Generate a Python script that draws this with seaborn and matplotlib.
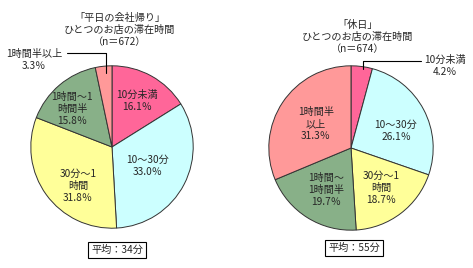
import matplotlib
matplotlib.use("Agg")
import matplotlib.pyplot as plt
import seaborn as sns
from matplotlib.lines import Line2D

# data
categories = ["10分未満", "10～30分", "30分～1時間", "1時間～1時間半", "1時間半以上"]
weekday_values = [16.1, 33.0, 31.8, 15.8, 3.3]
holiday_values = [4.2, 26.1, 18.7, 19.7, 31.3]
weekday_title = "「平日の会社帰り」\nひとつのお店の滞在時間\n（n＝672）"
holiday_title = "「休日」\nひとつのお店の滞在時間\n（n＝674）"
weekday_avg = "平均：34分"
holiday_avg = "平均：55分"
weekday_labels = ["10分未満", "10～30分", "30分～1\n時間", "1時間～1\n時間半", "1時間半以上"]
holiday_labels = ["10分未満", "10～30分", "30分～1\n時間", "1時間～\n1時間半", "1時間半\n以上"]

colors = ["#ff6699", "#ccffff", "#ffff99", "#88b088", "#ff9999"]

sns.set_theme(style="white")
plt.rcParams['font.family'] = ['Noto Sans CJK JP', 'DejaVu Sans']

W, H = 473, 268
fig = plt.figure(figsize=(W / 100, H / 100), dpi=100)
fig.patch.set_facecolor("white")


def px_axes(cx, cy, r):
    return fig.add_axes([(cx - r) / W, 1 - (cy + r) / H, 2 * r / W, 2 * r / H])


def ftext(x, y, s, **kw):
    fig.text(x / W, 1 - y / H, s, ha="center", va="center", fontsize=7.3,
             linespacing=1.25, **kw)


def fline(xs, ys):
    fig.add_artist(Line2D([x / W for x in xs], [1 - y / H for y in ys],
                          color="black", lw=0.8))


def avg_box(cx, cy, s):
    ftext(cx, cy, s, bbox=dict(boxstyle="square,pad=0.3", fc="white", ec="black", lw=0.8))


def draw_pie(ax, values):
    ax.pie(values, colors=colors, startangle=90, counterclock=False,
           wedgeprops=dict(edgecolor="#333333", linewidth=0.7))
    ax.set_xlim(-1.01, 1.01)
    ax.set_ylim(-1.01, 1.01)
    ax.axis("off")


# left pie
ax1 = px_axes(112, 147, 82)
draw_pie(ax1, weekday_values)
ftext(120, 30, weekday_title)
pos1 = [(137, 101), (148, 166), (78, 186), (72, 109), (34, 60)]
for (x, y), lab, v in zip(pos1, weekday_labels, weekday_values):
    ftext(x, y, f"{lab}\n{v:.1f}％")
fline([67, 106, 106], [53, 53, 73])
avg_box(117, 250, weekday_avg)

# right pie
ax2 = px_axes(351, 148, 83)
draw_pie(ax2, holiday_values)
ftext(358, 37, holiday_title)
pos2 = [(445, 66), (396, 131), (381, 188), (326, 190), (316, 124)]
for (x, y), lab, v in zip(pos2, holiday_labels, holiday_values):
    ftext(x, y, f"{lab}\n{v:.1f}％")
fline([363, 363, 421], [69, 61, 61])
avg_box(354, 248, holiday_avg)

fig.savefig("out.png", dpi=100)
